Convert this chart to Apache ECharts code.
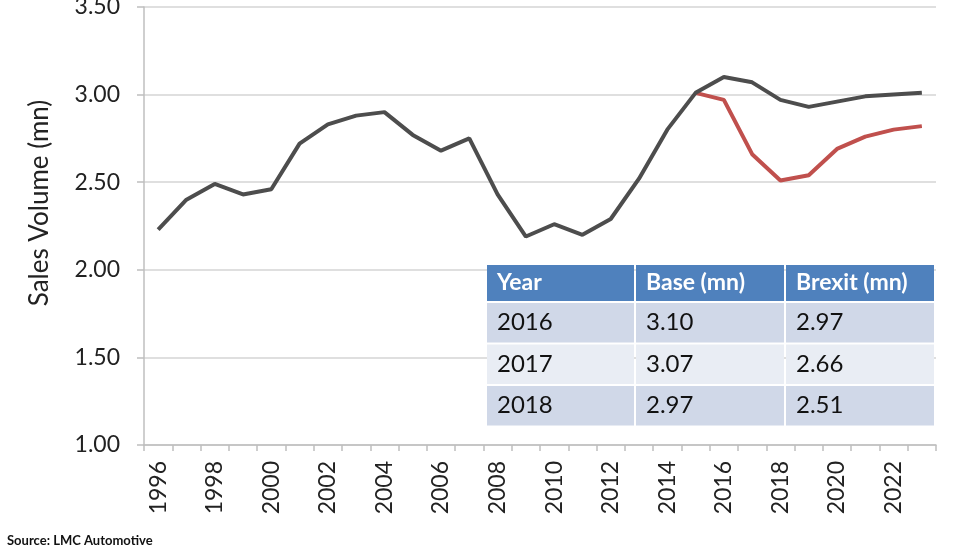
<!DOCTYPE html>
<html><head><meta charset="utf-8">
<script src="https://cdn.jsdelivr.net/npm/echarts@6/dist/echarts.min.js"></script>
<style>html,body{margin:0;padding:0;background:#fff}#c{width:960px;height:556px}</style>
</head><body><div id="c"></div>
<script>
const years = ['1996','1997','1998','1999','2000','2001','2002','2003','2004','2005','2006','2007','2008','2009','2010','2011','2012','2013','2014','2015','2016','2017','2018','2019','2020','2021','2022','2023'];
const baseValues = [2.23,2.40,2.49,2.43,2.46,2.72,2.83,2.88,2.90,2.77,2.68,2.75,2.43,2.19,2.26,2.20,2.29,2.52,2.80,3.01,3.10,3.07,2.97,2.93,2.96,2.99,3.00,3.01];
const brexitValues = [null,null,null,null,null,null,null,null,null,null,null,null,null,null,null,null,null,null,null,3.01,2.97,2.66,2.51,2.54,2.69,2.76,2.80,2.82];
const yTicks = [1.00,1.50,2.00,2.50,3.00,3.50];
const tableHeader = ['Year','Base (mn)','Brexit (mn)'];
const tableRows = [['2016','3.10','2.97'],['2017','3.07','2.66'],['2018','2.97','2.51']];

const FONT = 'Lato, "Open Sans", sans-serif';
// table graphic
const tX = 487, colW = [149, 150, 150], tY = 265, headH = 38, rowH = 41.5;
const tableEls = [];
let y = tY;
const allRows = [tableHeader].concat(tableRows);
allRows.forEach((row, ri) => {
  const h = ri === 0 ? headH : rowH;
  let x = tX;
  row.forEach((cell, ci) => {
    const fill = ri === 0 ? '#4f81bd' : (ri % 2 === 1 ? '#d0d8e8' : '#e9edf4');
    tableEls.push({type:'rect', shape:{x:x, y:y, width:colW[ci]-2, height:h-2}, style:{fill:fill}, z:10});
    tableEls.push({type:'text', x:x+10, y:y+(h-2)/2, z:11, style:{text:cell, fill: ri===0?'#ffffff':'#111111', font:(ri===0?'bold 23px ':'24px ')+FONT, verticalAlign:'middle', align:'left'}});
    x += colW[ci];
  });
  y += h;
});

const chart = echarts.init(document.getElementById('c'));
chart.setOption({
  animation:false,
  grid:{left:144, right:24, top:7, bottom:111, containLabel:false, outerBoundsMode:'none'},
  xAxis:{type:'category', data:years, boundaryGap:true,
    axisLine:{lineStyle:{color:'#bfbfbf', width:1.5}},
    axisTick:{show:true, interval:0, length:6, lineStyle:{color:'#bfbfbf', width:1.5}},
    axisLabel:{interval:1, rotate:90, margin:16, fontSize:23, color:'#222', fontFamily:FONT}},
  yAxis:{type:'value', min:1, max:3.5, interval:0.5,
    axisLine:{show:true, lineStyle:{color:'#bfbfbf', width:1.5}},
    axisTick:{show:true, length:7, lineStyle:{color:'#bfbfbf', width:1.5}},
    splitLine:{lineStyle:{color:'#d4d4d4', width:1.5}},
    axisLabel:{margin:24, fontSize:23, color:'#222', fontFamily:FONT, formatter:v=>v.toFixed(2)}},
  series:[
    {name:'Brexit', type:'line', data:brexitValues, symbol:'none', connectNulls:false, lineStyle:{color:'#c0504d', width:4}, z:2},
    {name:'Base', type:'line', data:baseValues, symbol:'none', lineStyle:{color:'#4d4d4d', width:4}, z:3}
  ],
  graphic:[
    {type:'text', x:40, y:203, rotation:Math.PI/2, style:{text:'Sales Volume (mn)', font:'26px '+FONT, fill:'#222', align:'center', verticalAlign:'middle'}},
    {type:'text', x:7, y:541, style:{text:'Source: LMC Automotive', font:'bold 13px '+FONT, fill:'#111', verticalAlign:'middle'}},
    {type:'group', children:tableEls}
  ]
});
</script></body></html>
